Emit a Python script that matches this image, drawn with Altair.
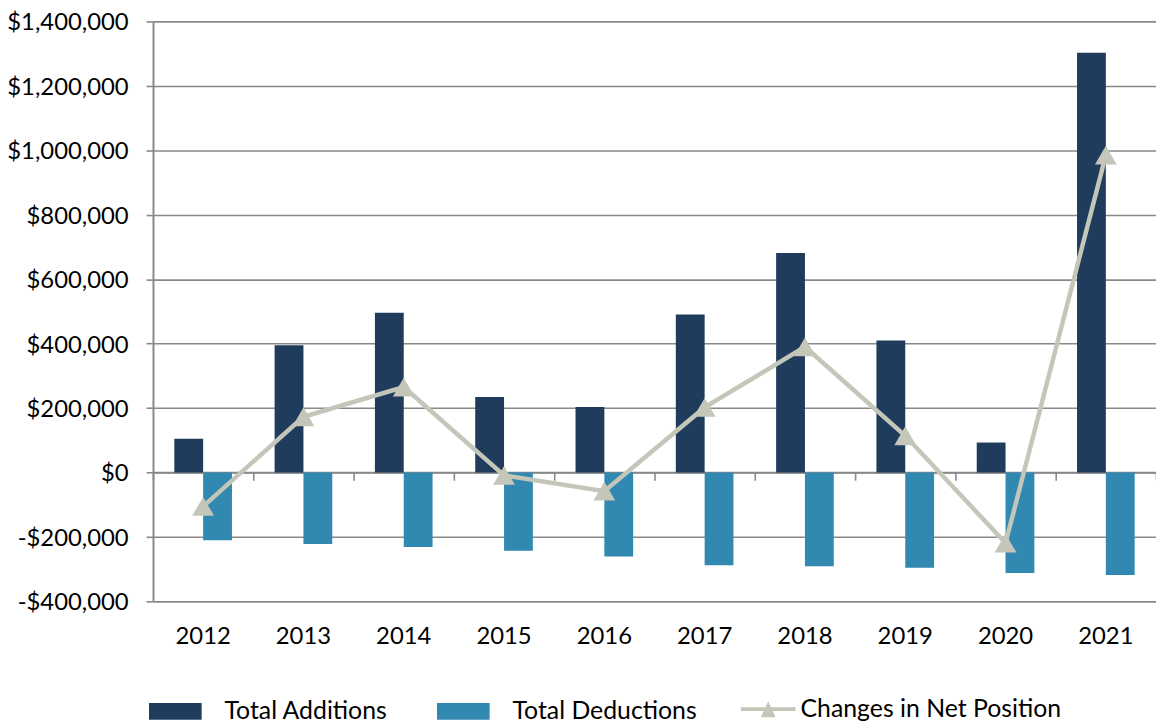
import altair as alt
import pandas as pd

years = ["2012", "2013", "2014", "2015", "2016", "2017", "2018", "2019", "2020", "2021"]
additions = [105000, 395000, 496000, 234000, 203000, 490000, 681000, 410000, 93000, 1303000]
deductions = [-210000, -222000, -231000, -243000, -261000, -288000, -291000, -296000, -312000, -318000]
net = [-105000, 173000, 265000, -9000, -58000, 202000, 390000, 114000, -219000, 985000]
series_names = ["Total Additions", "Total Deductions"]
net_name = "Changes in Net Position"
y_ticks = [-400000, -200000, 0, 200000, 400000, 600000, 800000, 1000000, 1200000, 1400000]

bars_df = pd.DataFrame({
    "Year": years + years,
    "Series": [series_names[0]] * len(years) + [series_names[1]] * len(years),
    "Value": additions + deductions,
})
line_df = pd.DataFrame({"Year": years, "Series": [net_name] * len(years), "Value": net})

FONT = "Lato"
FS = 24
LFS = 25
GRID = "#898989"
C_ADD = "#1F3C5C"
C_DED = "#3189B2"
C_LINE = "#C3C6B8"

x_scale = alt.Scale(domain=years, paddingInner=0, paddingOuter=0)
y_scale = alt.Scale(domain=[-400000, 1400000], nice=False, zero=False)

y_axis = alt.Axis(
    values=y_ticks,
    labelExpr="datum.value < 0 ? '-$' + format(-datum.value, ',') : '$' + format(datum.value, ',')",
    grid=True, gridColor=GRID, gridWidth=1.6,
    domain=True, domainColor=GRID, domainWidth=2,
    ticks=True, tickColor=GRID, tickWidth=1.6, tickSize=7,
    labelPadding=18, labelFont=FONT, labelFontSize=FS, labelColor="#000000",
    labelOffset=1.5,
    title=None,
)

bars = alt.Chart(bars_df).mark_bar().encode(
    x=alt.X("Year:N", scale=x_scale, sort=years,
            axis=alt.Axis(ticks=False, domain=False, grid=False, labelAngle=0,
                          labelPadding=23, labelFont=FONT, labelFontSize=FS,
                          labelColor="#000000", title=None)),
    xOffset=alt.XOffset("Series:N", sort=series_names,
                        scale=alt.Scale(domain=series_names, paddingInner=0, paddingOuter=0.74)),
    y=alt.Y("Value:Q", scale=y_scale, axis=y_axis),
    color=alt.Color("Series:N", sort=series_names,
                    scale=alt.Scale(domain=series_names, range=[C_ADD, C_DED]),
                    legend=alt.Legend(orient="none", legendX=-4, legendY=668,
                                      direction="horizontal", columns=2, title=None,
                                      symbolType="M-1,-0.32L1,-0.32L1,0.32L-1,0.32Z",
                                      symbolSize=2809, symbolStrokeWidth=0,
                                      labelOffset=23, columnPadding=49, padding=0,
                                      labelLimit=0,
                                      labelFont=FONT, labelFontSize=LFS,
                                      labelColor="#000000")),
)

line = alt.Chart(line_df).mark_line(color=C_LINE, strokeWidth=4.5).encode(
    x=alt.X("Year:N", scale=x_scale, sort=years,
            axis=alt.Axis(orient="bottom", offset=-130, labels=False, ticks=True,
                          tickBand="extent", tickSize=8, tickColor=GRID, tickWidth=1.6,
                          domain=True, domainColor=GRID, domainWidth=2, grid=False,
                          title=None, zindex=0)),
    y=alt.Y("Value:Q", scale=y_scale, axis=y_axis),
)

pts = alt.Chart(line_df).mark_point(shape="triangle-up", filled=True, size=480, opacity=1).encode(
    x=alt.X("Year:N", scale=x_scale, sort=years, axis=None),
    y=alt.Y("Value:Q", scale=y_scale, axis=y_axis),
    fill=alt.Fill("Series:N",
                  scale=alt.Scale(domain=[net_name], range=[C_LINE]),
                  legend=alt.Legend(orient="none", legendX=592, legendY=665,
                                    direction="horizontal", title=None,
                                    symbolType="M-1,-0.073L1,-0.073L1,0.073L-1,0.073Z M-0.27,0.3L0,-0.29L0.27,0.3Z",
                                    symbolSize=3025, symbolStrokeWidth=0,
                                    labelOffset=5, padding=0, labelLimit=0,
                                    labelFont=FONT, labelFontSize=LFS,
                                    labelColor="#000000")),
)

chart = alt.layer(bars, line, pts).resolve_axis(x="independent").resolve_scale(
    color="independent", fill="independent"
).properties(
    width=1010, height=584,
    autosize=alt.AutoSizeParams(type="none"),
    padding={"left": 146, "top": 11, "right": 0, "bottom": 126},
).configure_view(stroke=None)

chart.save("out.html", embed_options={"renderer": "svg", "actions": False})
